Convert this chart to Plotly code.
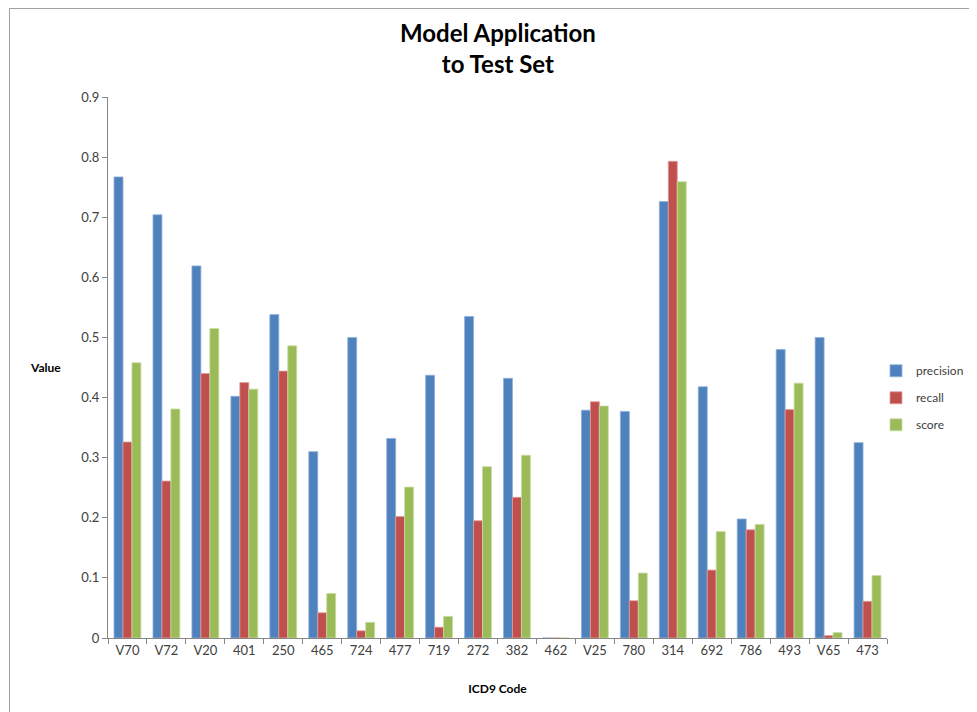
import plotly.graph_objects as go

codes = ["V70", "V72", "V20", "401", "250", "465", "724", "477", "719", "272",
         "382", "462", "V25", "780", "314", "692", "786", "493", "V65", "473"]
precision = [0.767, 0.704, 0.619, 0.402, 0.538, 0.310, 0.500, 0.332, 0.437, 0.535,
             0.432, 0.0, 0.379, 0.377, 0.726, 0.418, 0.198, 0.480, 0.500, 0.325]
recall = [0.326, 0.261, 0.440, 0.425, 0.444, 0.042, 0.012, 0.202, 0.018, 0.195,
          0.234, 0.0, 0.393, 0.062, 0.793, 0.113, 0.180, 0.380, 0.004, 0.061]
score = [0.458, 0.381, 0.515, 0.414, 0.486, 0.074, 0.026, 0.251, 0.036, 0.285,
         0.304, 0.0, 0.386, 0.108, 0.759, 0.177, 0.189, 0.424, 0.009, 0.104]

font_name = "Lato, Open Sans, sans-serif"

# page body adds an 8px margin, so the figure is a bit smaller than the window
W, H = 969, 704
L, R, T, B = 100, 90, 89, 74
plot_w = W - L - R
plot_h = H - T - B

fig = go.Figure()
fig.add_trace(go.Bar(x=codes, y=precision, name="precision", legendgroup="p",
                     marker=dict(color="#4F81BD", line=dict(color="#8FB0DA", width=0.8))))
fig.add_trace(go.Bar(x=codes, y=recall, name="recall", legendgroup="r",
                     marker=dict(color="#C0504D", line=dict(color="#E29A98", width=0.8))))
fig.add_trace(go.Bar(x=codes, y=score, name="score", legendgroup="s",
                     marker=dict(color="#9BBB59", line=dict(color="#C8DCA2", width=0.8))))

fig.update_layout(
    width=W, height=H,
    margin=dict(l=L, r=R, t=T, b=B, autoexpand=False),
    paper_bgcolor="white", plot_bgcolor="white",
    font=dict(family=font_name, size=13, color="#404040"),
    barmode="group", bargap=0.31, bargroupgap=0,
    legend=dict(x=(876 - 8 - L) / plot_w, y=0.444, xanchor="left", yanchor="middle",
                font=dict(size=12, family=font_name, color="#404040"), itemwidth=30,
                tracegroupgap=8, bgcolor="rgba(0,0,0,0)"),
    showlegend=True,
)

fig.update_xaxes(
    type="category", showgrid=False, showline=True, linecolor="#868686", linewidth=1,
    ticks="outside", tickson="boundaries", ticklen=5, tickcolor="#868686",
    tickfont=dict(size=13),
    title=dict(text="<b>ICD9 Code</b>", font=dict(size=12, color="#000000"), standoff=28),
)
fig.update_yaxes(
    range=[0, 0.9], dtick=0.1, showgrid=False, showline=True, linecolor="#868686",
    linewidth=1, ticks="outside", ticklen=5, tickcolor="#868686",
    tickfont=dict(size=13), zeroline=False,
)

fig.add_annotation(text="<b>Model Application<br>to Test Set</b>", xref="paper", yref="paper",
                   x=0.5, y=(H - B - 40) / plot_h, showarrow=False,
                   xanchor="center", yanchor="middle",
                   font=dict(size=24, family=font_name, color="#000000"))
fig.add_annotation(text="<b>Value</b>", xref="paper", yref="paper",
                   x=(37 - L) / plot_w, y=(H - B - 359) / plot_h,
                   showarrow=False, font=dict(size=12, color="#000000"),
                   xanchor="center", yanchor="middle")

# chart frame
fig.add_shape(type="rect", xref="paper", yref="paper",
              x0=(1.5 - L) / plot_w, x1=(W + 20 - L) / plot_w,
              y0=-0.3, y1=(H - B - 0.5) / plot_h,
              line=dict(color="#A0A0A0", width=1), layer="below")

fig.write_html("out.html")
